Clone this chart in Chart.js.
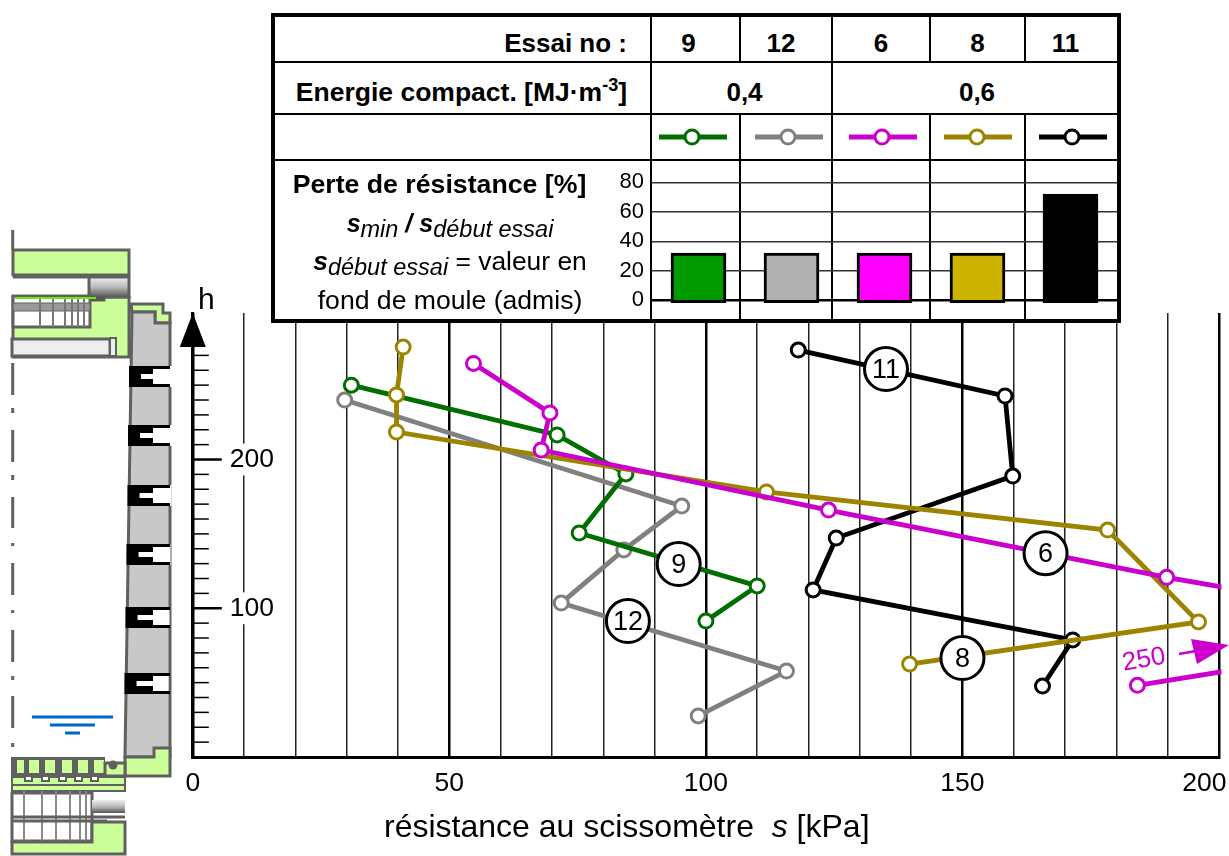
<!DOCTYPE html>
<html lang="fr">
<head>
<meta charset="utf-8">
<title>Résistance au scissomètre</title>
<script src="https://cdn.jsdelivr.net/npm/chart.js@4/dist/chart.umd.min.js"></script>
<style>
  html, body { margin: 0; padding: 0; background: #fff; }
  body { width: 1229px; height: 856px; position: relative; overflow: hidden; font-family: "Liberation Sans", Arial, sans-serif; color: #000; }
  canvas, svg.layer { position: absolute; }
  #schema { left: 0; top: 0; }
  #profil { left: 0; top: 0; }
  #tableau { position: absolute; left: 271px; top: 13px; width: 850px; height: 310px; box-sizing: border-box; background: #fff; border: 4px solid #000; }
  #tableau table { border-collapse: separate; border-spacing: 0; table-layout: fixed; width: 842px; }
  #tableau td { padding: 0; box-sizing: border-box; border-right: 2px solid #000; border-bottom: 2px solid #000; text-align: center; font-weight: bold; font-size: 26px; }
  #tableau td:last-child { border-right: 0; }
  #tableau tr:last-child td { border-bottom: 0; }
  #tableau tr.texte td { padding-top: 8px; }
  #tableau td.titre { text-align: right; padding-right: 23px; }
  #tableau td.titre.e { font-size: 26.5px; }
  #tableau sup { font-size: 18px; line-height: 0; }
  #tableau svg { display: block; margin: 0 auto; position: relative; }
  #perte { left: 600px; top: 160px; z-index: 2; }
  .txt { position: absolute; white-space: nowrap; z-index: 3; }
  .txt sub { font-style: italic; font-size: 23.5px; vertical-align: -5px; line-height: 0; }
  .txt b { font-style: italic; }
</style>
</head>
<body>
<svg id="schema" class="layer" width="1229" height="856"></svg>
<canvas id="profil" width="1229" height="856"></canvas>

<div id="tableau">
  <table>
    <colgroup><col style="width:377px"><col style="width:89px"><col style="width:92px"><col style="width:98px"><col style="width:95px"><col style="width:91px"></colgroup>
    <tr id="rangEssai" class="texte" style="height:46px"><td class="titre">Essai no :</td></tr>
    <tr id="rangEnergie" class="texte" style="height:52px"><td class="titre e">Energie compact. [MJ·m<sup>-3</sup>]</td></tr>
    <tr id="rangLegende" style="height:46px"><td></td></tr>
    <tr id="rangBarres" style="height:158px"><td></td></tr>
  </table>
</div>
<canvas id="perte" width="520" height="160"></canvas>

<div class="txt" style="left:271px;width:337px;top:169px;text-align:center;font-weight:bold;font-size:26.7px">Perte de résistance [%]</div>
<div class="txt" style="left:271px;width:358px;top:209px;text-align:center;font-size:25px"><b>s</b><sub>min</sub> <b>/</b> <b>s</b><sub>début essai</sub></div>
<div class="txt" style="left:271px;width:358px;top:246px;text-align:center;font-size:26.4px"><b>s</b><sub>début essai</sub> = valeur en</div>
<div class="txt" style="left:271px;width:358px;top:285px;text-align:center;font-size:26.6px">fond de moule (admis)</div>
<div class="txt" style="left:198px;top:282px;font-size:30px">h</div>
<div class="txt" style="left:384px;top:808px;font-size:32px">résistance au scissomètre &nbsp;<i>s</i> [kPa]</div>

<script>
// Valeurs
const essais = ["9", "12", "6", "8", "11"];
const energies = ["0,4", "0,6"];
const energieSpan = [2, 3];
const perte = [32, 32, 32, 32, 72];

const s9 = [30.9, 71.0, 84.4, 75.3, 110.0, 100.0];
const h9 = [250, 216.5, 190.3, 150.6, 115, 91.4];
const s12 = [29.6, 95.3, 84.0, 71.8, 115.7, 98.5];
const h12 = [240, 168.7, 139.2, 103.5, 57.8, 27.6];
const s6 = [54.7, 69.6, 67.9, 123.9, 189.8, 250, 184.1];
const h6 = [264.6, 231.3, 206.4, 166, 120.8, 84.5, 48.2];
const s8 = [41.0, 39.7, 39.7, 111.8, 178.3, 196.0, 139.7];
const h8 = [275.6, 243.4, 218.5, 178.2, 152.6, 90.8, 62.5];
const s11 = [118.0, 158.3, 159.8, 125.4, 120.9, 171.5, 165.6];
const h11 = [273.6, 242.7, 188.9, 147.2, 112.3, 78.7, 47.7];

// Pastilles numerotees, en coordonnees du graphique
const pastilles = ["11", "9", "12", "6", "8"];
const pastilleS = [135.1, 94.7, 84.8, 166.2, 150];
const pastilleH = [260.8, 129.7, 91.4, 137, 66.5];

const xLabels = [0, 50, 100, 150, 200];
const hLabels = [100, 200];

const vert = "#006e00", gris = "#808080", magenta = "#cc00cc", olive = "#9c8400", noir = "#000";
const couleurs = [vert, gris, magenta, olive, noir];
const remplissages = ["#009900", "#b0b0b0", "#ff00ff", "#ccb300", "#000"];

const font = "'Liberation Sans', Arial, sans-serif";

function pts(xs, ys) {
  return xs.map((x, i) => ({ x: x, y: ys[i] }));
}
function serie(label, xs, ys, couleur) {
  return {
    label: label,
    data: pts(xs, ys),
    borderColor: couleur,
    backgroundColor: "#fff",
    borderWidth: 4.8,
    pointRadius: 7,
    pointBorderWidth: 3,
    pointBorderColor: couleur,
    pointBackgroundColor: "#fff",
    showLine: true,
    tension: 0,
    clip: { left: 5, top: 5, right: 2.5, bottom: 5 },
  };
}

// Graduations de h, a droite de l'axe, et fleche + pastilles
const decorPlugin = {
  id: "decor",
  afterDatasetsDraw(chart) {
    const ctx = chart.ctx, x = chart.scales.x, y = chart.scales.y;
    const x0 = x.getPixelForValue(0);
    ctx.save();
    ctx.strokeStyle = "#000";
    y.ticks.forEach((t) => {
      if (t.value === 0) return;
      const major = hLabels.includes(t.value);
      const py = y.getPixelForValue(t.value);
      ctx.lineWidth = major ? 2.5 : 1.5;
      ctx.beginPath();
      ctx.moveTo(x0, py);
      ctx.lineTo(x0 + (major ? 29 : 16), py);
      ctx.stroke();
    });
    // fleche de l'axe h
    ctx.fillStyle = "#000";
    ctx.beginPath();
    ctx.moveTo(x0, y.top);
    ctx.lineTo(x0 - 13, y.top + 34);
    ctx.lineTo(x0 + 13, y.top + 34);
    ctx.closePath();
    ctx.fill();

    pastilles.forEach((nom, i) => {
      const px = x.getPixelForValue(pastilleS[i]), py = y.getPixelForValue(pastilleH[i]);
      ctx.beginPath();
      ctx.arc(px, py, 21.5, 0, Math.PI * 2);
      ctx.fillStyle = "#fff";
      ctx.fill();
      ctx.lineWidth = 3;
      ctx.strokeStyle = "#000";
      ctx.stroke();
      ctx.fillStyle = "#000";
      ctx.font = "27px " + font;
      ctx.textAlign = "center";
      ctx.textBaseline = "middle";
      ctx.fillText(nom, px, py + 1);
    });

    // le point a 250 est hors cadre : rappel en magenta
    ctx.fillStyle = magenta;
    ctx.strokeStyle = magenta;
    ctx.save();
    ctx.translate(1144, 660);
    ctx.rotate(-0.17);
    ctx.font = "26px " + font;
    ctx.textAlign = "center";
    ctx.textBaseline = "middle";
    ctx.fillText("250", 0, 0);
    ctx.restore();
    ctx.lineWidth = 2.5;
    ctx.beginPath();
    ctx.moveTo(1179, 654);
    ctx.lineTo(1196, 651);
    ctx.stroke();
    ctx.beginPath();
    ctx.moveTo(1229, 645);
    ctx.lineTo(1191, 639);
    ctx.lineTo(1197, 664);
    ctx.closePath();
    ctx.fill();
    ctx.restore();
  },
};

new Chart(document.getElementById("profil").getContext("2d"), {
  type: "scatter",
  data: {
    datasets: [
      serie("6", s6, h6, magenta),
      serie("8", s8, h8, olive),
      serie("11", s11, h11, noir),
      serie("9", s9, h9, vert),
      serie("12", s12, h12, gris),
    ],
  },
  options: {
    responsive: false,
    animation: false,
    layout: { padding: { top: 313, right: 6.8, left: 0, bottom: 0 } },
    plugins: { legend: { display: false }, tooltip: { enabled: false } },
    scales: {
      x: {
        type: "linear",
        min: 0,
        max: 200,
        afterFit(s) { s.height = 99; s.paddingLeft = 0; s.paddingRight = 0; },
        border: { color: "#000", width: 3 },
        grid: {
          drawTicks: false,
          color: (c) => (c.tick && c.tick.value % 50 === 0 ? "#000" : "#222"),
          lineWidth: (c) => (c.tick && c.tick.value % 50 === 0 ? 2.5 : 1.5),
        },
        ticks: {
          stepSize: 10,
          autoSkip: false,
          maxRotation: 0,
          padding: 11,
          color: "#000",
          font: { family: font, size: 26.5 },
          // le 200 est decale vers la gauche sur la figure
          callback: (v) => (xLabels.includes(v) ? (v === 200 ? "200\u00a0\u00a0\u00a0\u00a0" : String(v)) : ""),
        },
      },
      y: {
        type: "linear",
        min: 0,
        max: 298.5,
        afterFit(s) { s.width = 192.8; s.paddingTop = 0; s.paddingBottom = 0; },
        afterBuildTicks(s) { s.ticks = s.ticks.filter((t) => t.value <= 270); },
        border: { color: "#000", width: 3 },
        grid: { display: true, drawOnChartArea: false, drawTicks: false },
        ticks: {
          stepSize: 10,
          autoSkip: false,
          includeBounds: false,
          mirror: true,
          padding: 37,
          color: "#000",
          font: { family: font, size: 26.5 },
          showLabelBackdrop: (c) => hLabels.includes(c.tick.value),
          backdropColor: "#fff",
          backdropPadding: { x: 0, y: 0 },
          callback: (v) => (hLabels.includes(v) ? String(v) : ""),
        },
      },
    },
  },
  plugins: [decorPlugin],
});

// Barres de perte de resistance
new Chart(document.getElementById("perte").getContext("2d"), {
  type: "bar",
  data: {
    labels: essais,
    datasets: [{
      data: perte,
      base: -1.6,
      backgroundColor: remplissages,
      borderColor: "#000",
      borderWidth: 3,
      borderSkipped: false,
      barThickness: 55,
      clip: false,
    }],
  },
  options: {
    responsive: false,
    animation: false,
    layout: { padding: { top: 22.3, bottom: 19.7, right: 3, left: 0 } },
    plugins: { legend: { display: false }, tooltip: { enabled: false } },
    scales: {
      x: { display: false },
      y: {
        min: 0,
        max: 80,
        afterFit(s) { s.width = 52; s.paddingTop = 0; s.paddingBottom = 0; },
        border: { display: false },
        grid: {
          drawTicks: false,
          color: (c) => (c.tick && c.tick.value === 0 ? "#000" : "#333"),
          lineWidth: (c) => (c.tick && c.tick.value === 0 ? 2.5 : 1.5),
        },
        ticks: { stepSize: 20, padding: 8, color: "#000", font: { family: font, size: 22 } },
      },
    },
  },
});

// Lignes du tableau construites depuis les tableaux du haut
const decalages = [14, 10, 0, 0, 12];
const rangEssai = document.getElementById("rangEssai");
essais.forEach((e, i) => {
  const td = document.createElement("td");
  td.textContent = e;
  td.style.paddingRight = decalages[i] + "px";
  rangEssai.appendChild(td);
});
const rangEnergie = document.getElementById("rangEnergie");
const decalagesEnergie = [6, 4];
energies.forEach((e, i) => {
  const td = document.createElement("td");
  td.textContent = e;
  td.colSpan = energieSpan[i];
  td.style.paddingLeft = decalagesEnergie[i] + "px";
  rangEnergie.appendChild(td);
});
const rangLegende = document.getElementById("rangLegende");
const rangBarres = document.getElementById("rangBarres");
const decalagesLegende = [-3, 3, 2, 0, 1];
couleurs.forEach((c, i) => {
  const td = document.createElement("td");
  td.innerHTML = '<svg width="68" height="20" style="left:' + decalagesLegende[i] + 'px"><line x1="0" y1="10" x2="68" y2="10" stroke="' + c + '" stroke-width="5"/>' +
    '<circle cx="33" cy="10" r="7" fill="#fff" stroke="' + c + '" stroke-width="3"/></svg>';
  rangLegende.appendChild(td);
  rangBarres.appendChild(document.createElement("td"));
});

// Schema de la colonne a gauche
const trait = "#606060", vertClair = "#ccff99";
let svg = '<defs><linearGradient id="deg" x1="0" y1="0" x2="0" y2="1"><stop offset="0" stop-color="#eee"/><stop offset="0.5" stop-color="#bbb"/><stop offset="1" stop-color="#555"/></linearGradient></defs>';
const rect = (x, y, w, h, fill, sw) => '<rect x="' + x + '" y="' + y + '" width="' + w + '" height="' + h + '" fill="' + fill + '" stroke="' + trait + '" stroke-width="' + (sw === undefined ? 3 : sw) + '"/>';
const ligne = (x1, y1, x2, y2, c, w) => '<line x1="' + x1 + '" y1="' + y1 + '" x2="' + x2 + '" y2="' + y2 + '" stroke="' + c + '" stroke-width="' + w + '"/>';

// axe de symetrie
[[230, 250], [363, 395], [408, 413], [430, 462], [475, 480], [497, 528], [543, 546], [563, 595], [610, 613], [630, 662], [676, 680], [696, 728], [743, 747]].forEach((d) => {
  svg += ligne(12.7, d[0], 12.7, d[1], trait, 3);
});

// tete superieure
svg += rect(13, 250, 116, 25, vertClair);
svg += rect(13, 297, 116, 60, vertClair);
svg += rect(89, 277, 40, 20, "url(#deg)", 3);
svg += ligne(13, 277, 89, 277, trait, 3);
svg += rect(13, 296, 77, 31, "#fff");
svg += rect(13, 303, 77, 8, "#999", 1);
[40, 53, 65, 72, 78, 84].forEach((x) => { svg += ligne(x, 297, x, 327, "#777", 2); });
svg += rect(90, 296, 15, 5, "#555", 1);
svg += ligne(15, 298, 96, 298, "#66ee00", 2);
svg += rect(12, 339, 98, 17, "#eee");
svg += rect(110, 338, 6, 18, "#eee", 2);

// colonne de pierres
svg += '<polygon points="131,304 163,304 163,313 170,313 170,323 155,323 155,312 132,312" fill="' + vertClair + '" stroke="' + trait + '" stroke-width="3"/>';
svg += '<polygon points="132,312 155,312 155,323 170,323 170,757 125,757" fill="#c8c8c8" stroke="' + trait + '" stroke-width="3"/>';
[[366, 129], [425, 128], [485, 127.5], [544, 126.5], [607, 125.5], [673, 124.5]].forEach((j) => {
  const y0 = j[0], g = j[1];
  svg += '<rect x="' + (g + 12) + '" y="' + y0 + '" width="32" height="21" fill="#fff"/>';
  svg += '<path fill="#000" d="M' + g + ' ' + y0 + 'H170V' + (y0 + 3) + 'H153V' + (y0 + 8) + 'H' + (g + 12) + 'V' + (y0 + 13) + 'H153V' + (y0 + 18) + 'H170V' + (y0 + 21) + 'H' + g + 'Z"/>';
});

// niveau d'eau
svg += ligne(32, 717, 113, 717, "#0066cc", 3);
svg += ligne(50, 725, 95, 725, "#0066cc", 3);
svg += ligne(65, 733, 80, 733, "#0066cc", 3);

// base et tete inferieure
svg += '<polygon points="125,757 154,757 154,748 170,748 170,776 125,776" fill="' + vertClair + '" stroke="' + trait + '" stroke-width="3"/>';
svg += rect(11, 757, 94, 20, trait, 0);
[17, 29, 45, 62, 78, 94].forEach((x) => { svg += '<rect x="' + x + '" y="760" width="' + (x === 17 ? 7 : 10) + '" height="13" fill="' + vertClair + '"/>'; });
svg += rect(105, 763, 20, 13, vertClair);
svg += '<circle cx="113" cy="765" r="4.5" fill="' + trait + '"/>';
svg += rect(12, 777, 113, 14, vertClair, 2);
[25, 42, 59, 75, 91].forEach((x) => { svg += rect(x, 776, 7, 5, "#fff", 2); });
svg += ligne(13, 785, 125, 785, trait, 2);
svg += rect(12, 793, 80, 48, "#fff");
[24, 42, 56, 70, 80, 86].forEach((x) => { svg += ligne(x, 791, x, 841, "#888", 2); });
svg += '<rect x="92" y="800" width="33" height="13" fill="url(#deg)"/>';
svg += ligne(12, 817, 125, 817, trait, 3);
svg += ligne(12, 821, 107, 821, trait, 3);
svg += '<polygon points="12,842 92,842 92,822 125,822 125,854 12,854" fill="' + vertClair + '" stroke="' + trait + '" stroke-width="3"/>';
document.getElementById("schema").innerHTML = svg;
</script>
</body>
</html>
